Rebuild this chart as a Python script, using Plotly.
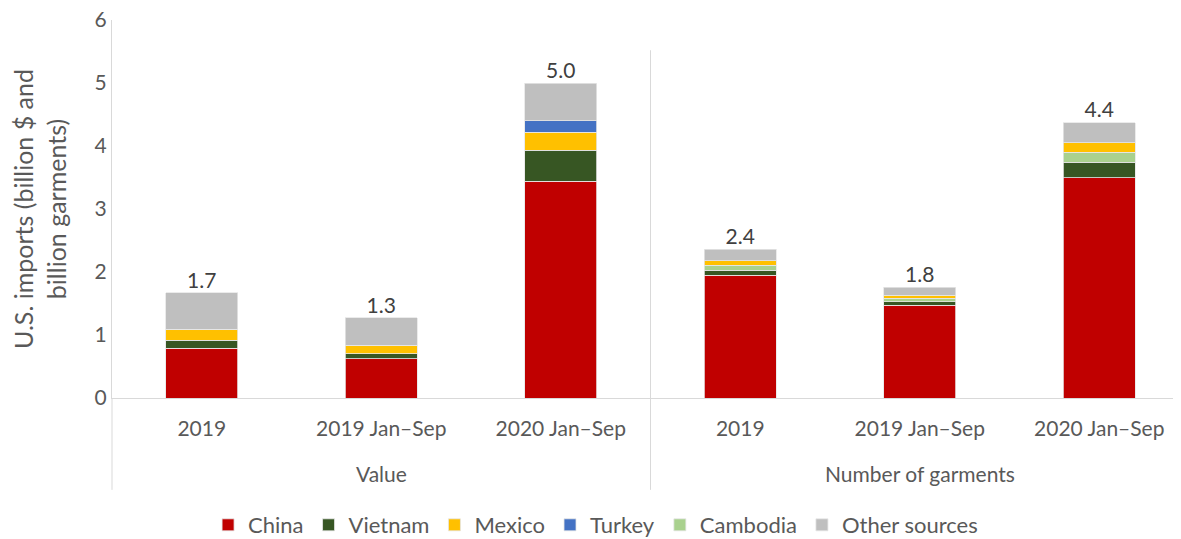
import plotly.graph_objects as go

groups = ["Value", "Number of garments"]
periods = ["2019", "2019 Jan–Sep", "2020 Jan–Sep"]

# value (billion $): 2019, 2019 Jan-Sep, 2020 Jan-Sep
value = {
    "China": [0.79, 0.62, 3.44],
    "Vietnam": [0.13, 0.08, 0.49],
    "Mexico": [0.17, 0.14, 0.29],
    "Turkey": [0.0, 0.0, 0.18],
    "Cambodia": [0.0, 0.0, 0.0],
    "Other sources": [0.58, 0.43, 0.60],
}
# number of garments (billion)
garments = {
    "China": [1.95, 1.47, 3.50],
    "Vietnam": [0.08, 0.06, 0.24],
    "Cambodia": [0.08, 0.05, 0.16],
    "Mexico": [0.07, 0.05, 0.15],
    "Other sources": [0.18, 0.13, 0.32],
}

colors = {
    "China": "#C00000",
    "Vietnam": "#375623",
    "Mexico": "#FFC000",
    "Turkey": "#4472C4",
    "Cambodia": "#A9D18E",
    "Other sources": "#BFBFBF",
}

FONT = "Lato, Carlito, Calibri, sans-serif"
GREY = "#595959"
LINE = "#d9d9d9"

n = len(periods)
x_val = list(range(n))
x_gar = list(range(n, 2 * n))

fig = go.Figure()
for name, vals in value.items():
    fig.add_trace(go.Bar(
        x=x_val, y=vals, name=name, legendgroup=name,
        marker=dict(color=colors[name], line=dict(color="#e6e6e6", width=0.8)),
    ))
for name, vals in garments.items():
    fig.add_trace(go.Bar(
        x=x_gar, y=vals, name=name, legendgroup=name, showlegend=False,
        marker=dict(color=colors[name], line=dict(color="#e6e6e6", width=0.8)),
    ))

totals = [sum(v) for v in zip(*value.values())] + [sum(v) for v in zip(*garments.values())]
fig.add_trace(go.Scatter(
    x=x_val + x_gar, y=totals, mode="text",
    text=[f"{t:.1f}" for t in totals],
    textposition="top center",
    textfont=dict(size=21, color="#404040", family=FONT),
    showlegend=False, hoverinfo="skip", cliponaxis=False,
))

# group separators and left edge line extending under the labels
fig.add_shape(type="line", xref="x", yref="paper", x0=n - 0.5, x1=n - 0.5, y0=-0.243, y1=0.92,
              line=dict(color=LINE, width=1))
fig.add_shape(type="line", xref="paper", yref="paper", x0=0, x1=0, y0=-0.243, y1=0,
              line=dict(color=LINE, width=1))

# group labels
for i, g in enumerate(groups):
    fig.add_annotation(x=i * n + (n - 1) / 2, y=-0.2, xref="x", yref="paper",
                       text=g, showarrow=False, yanchor="middle",
                       font=dict(size=21, color=GREY, family=FONT))

fig.update_layout(
    barmode="stack",
    bargap=0.6,
    width=1181, height=539,
    paper_bgcolor="white", plot_bgcolor="white",
    margin=dict(l=104, r=0, t=12, b=149),
    font=dict(family=FONT, size=21, color=GREY),
    legend=dict(orientation="h", x=0.449, xanchor="center", y=-0.336, yanchor="middle",
                font=dict(size=22, color=GREY), traceorder="normal"),
)
fig.update_xaxes(
    range=[-0.5, 5.5], tickvals=x_val + x_gar, ticktext=periods * 2,
    showline=True, linecolor=LINE, linewidth=1, automargin=False,
    tickfont=dict(size=21, color=GREY), showgrid=False, zeroline=False,
    ticks="", ticklabelstandoff=12,
)
fig.update_yaxes(
    range=[0, 6], dtick=1, showgrid=False, zeroline=False, automargin=False,
    showline=True, linecolor=LINE, linewidth=1, ticklabeloverflow="allow",
    tickfont=dict(size=21, color=GREY), ticks="",
    title=dict(text="U.S. imports (billion $ and<br>billion garments)",
               font=dict(size=25, color=GREY), standoff=27),
)

fig.write_html("out.html")
